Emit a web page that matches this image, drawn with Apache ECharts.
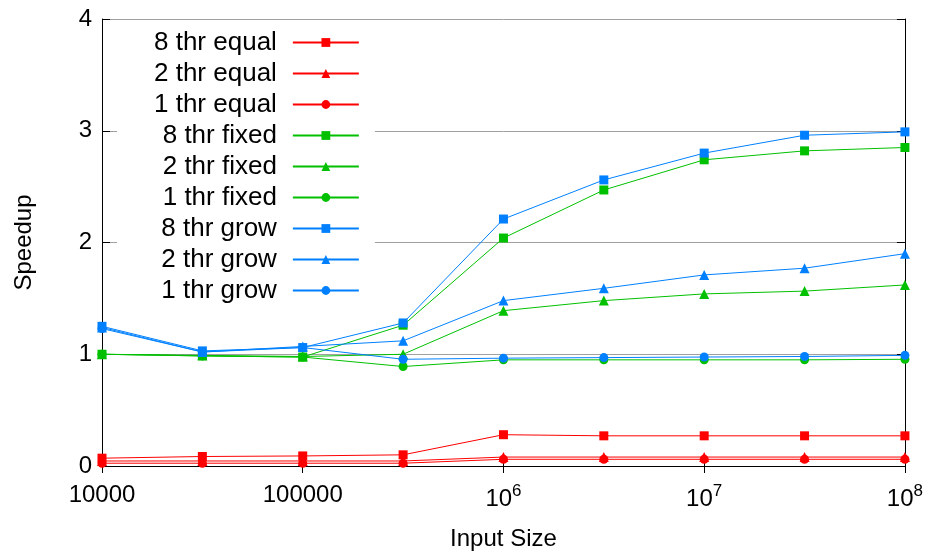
<!DOCTYPE html>
<html>
<head>
<meta charset="utf-8">
<script src="https://cdn.jsdelivr.net/npm/echarts@6/dist/echarts.min.js"></script>
<style>
  html, body { margin: 0; padding: 0; background: #fff; }
  #chart { width: 926px; height: 556px; }
</style>
</head>
<body>
<div id="chart"></div>
<script>
const sizes = [1e4, 31623, 1e5, 316228, 1e6, 3162278, 1e7, 31622777, 1e8]

const equal8 = [0.07, 0.085, 0.09, 0.10, 0.28, 0.27, 0.27, 0.27, 0.27]
const equal2 = [0.045, 0.045, 0.045, 0.045, 0.08, 0.08, 0.08, 0.08, 0.08]
const equal1 = [0.025, 0.025, 0.025, 0.025, 0.06, 0.06, 0.06, 0.06, 0.06]
const fixed8 = [1.0, 0.985, 0.975, 1.26, 2.04, 2.47, 2.74, 2.82, 2.85]
const fixed2 = [1.0, 0.99, 0.98, 1.0, 1.39, 1.48, 1.54, 1.565, 1.62]
const fixed1 = [1.0, 0.985, 0.975, 0.89, 0.95, 0.95, 0.95, 0.95, 0.955]
const grow8 = [1.25, 1.03, 1.06, 1.28, 2.21, 2.56, 2.80, 2.96, 2.99]
const grow2 = [1.24, 1.02, 1.07, 1.12, 1.48, 1.59, 1.71, 1.77, 1.90]
const grow1 = [1.23, 1.02, 1.06, 0.955, 0.965, 0.97, 0.975, 0.98, 0.99]

const RED = '#ff0000'
const GREEN = '#00c000'
const BLUE = '#0080ff'
const FONT = '"Liberation Sans", Arial, sans-serif'

const makeSeries = (name, values, color, symbol) => ({
  name: name,
  type: 'line',
  data: values.map((v, i) => [sizes[i], v]),
  symbol: symbol,
  symbolSize: symbol === 'triangle' ? 10 : 9,
  showSymbol: true,
  animation: false,
  color: color,
  lineStyle: { width: 1, color: color },
  itemStyle: { color: color }
})

const series = [
  makeSeries('8 thr equal', equal8, RED, 'rect'),
  makeSeries('2 thr equal', equal2, RED, 'triangle'),
  makeSeries('1 thr equal', equal1, RED, 'circle'),
  makeSeries('8 thr fixed', fixed8, GREEN, 'rect'),
  makeSeries('2 thr fixed', fixed2, GREEN, 'triangle'),
  makeSeries('1 thr fixed', fixed1, GREEN, 'circle'),
  makeSeries('8 thr grow', grow8, BLUE, 'rect'),
  makeSeries('2 thr grow', grow2, BLUE, 'triangle'),
  makeSeries('1 thr grow', grow1, BLUE, 'circle')
]

const xLabel = value => {
  const e = Math.round(Math.log10(value))
  if (e < 6) return String(Math.round(value))
  return '10{s|' + e + '}'
}

const chart = echarts.init(document.getElementById('chart'))

chart.setOption({
  animation: false,
  textStyle: { fontFamily: FONT },
  grid: { left: 102, right: 20, top: 19, bottom: 89 },
  legend: {
    orient: 'vertical',
    left: 117,
    top: 27,
    align: 'right',
    backgroundColor: '#ffffff',
    padding: [0, 15, 3, 37],
    itemWidth: 66,
    itemHeight: 11,
    itemGap: 0,
    textStyle: { fontSize: 26, color: '#000', lineHeight: 31, fontFamily: FONT, padding: [0, 11, 0, 0] },
    data: series.map(s => s.name)
  },
  xAxis: [
    {
      type: 'log',
      logBase: 10,
      min: 1e4,
      max: 1e8,
      position: 'bottom',
      name: 'Input Size',
      nameLocation: 'middle',
      nameGap: 61,
      nameTextStyle: { fontSize: 24, color: '#000', fontFamily: FONT },
      axisLine: { lineStyle: { color: '#000', width: 1 } },
      axisTick: { inside: true, length: 7, lineStyle: { color: '#000' } },
      splitLine: { show: false },
      minorTick: { show: false },
      axisLabel: {
        color: '#000',
        fontSize: 24,
        margin: 17,
        fontFamily: FONT,
        formatter: xLabel,
        rich: {
          s: { fontSize: 17, padding: [0, 0, 16, 0], color: '#000', fontFamily: FONT }
        }
      }
    },
    {
      type: 'log',
      logBase: 10,
      min: 1e4,
      max: 1e8,
      position: 'top',
      axisLine: { lineStyle: { color: '#000', width: 1 } },
      axisTick: { inside: true, length: 7, lineStyle: { color: '#000' } },
      axisLabel: { show: false },
      splitLine: { show: false }
    }
  ],
  yAxis: [
    {
      type: 'value',
      min: 0,
      max: 4,
      interval: 1,
      position: 'left',
      name: 'Speedup',
      nameLocation: 'middle',
      nameGap: 66,
      nameTextStyle: { fontSize: 24, color: '#000', fontFamily: FONT },
      axisLine: { show: true, lineStyle: { color: '#000', width: 1 } },
      axisTick: { show: true, inside: true, length: 8, lineStyle: { color: '#000' } },
      axisLabel: { color: '#000', fontSize: 24, margin: 10, fontFamily: FONT },
      splitLine: { show: true, lineStyle: { color: '#a0a0a0', width: 1 } }
    },
    {
      type: 'value',
      min: 0,
      max: 4,
      interval: 1,
      position: 'right',
      axisLine: { show: true, lineStyle: { color: '#000', width: 1 } },
      axisTick: { show: true, inside: true, length: 8, lineStyle: { color: '#000' } },
      axisLabel: { show: false },
      splitLine: { show: false }
    }
  ],
  series: series
})
</script>
</body>
</html>
